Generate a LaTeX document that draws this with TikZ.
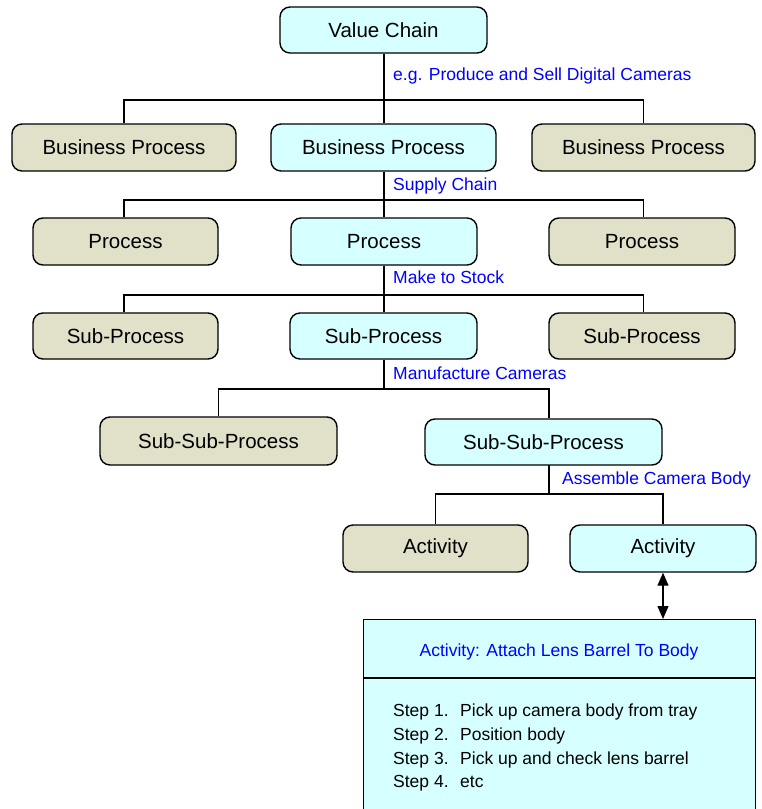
\documentclass[tikz,border=0pt]{standalone}
\usepackage{fontspec}
\setmainfont{Liberation Sans}
\usetikzlibrary{arrows.meta}
\definecolor{cyanfill}{RGB}{214,255,255}
\definecolor{beigefill}{RGB}{225,224,200}
\definecolor{labelblue}{RGB}{0,0,255}
\begin{document}
\begin{tikzpicture}[x=1pt,y=-1pt,
  box/.style={draw=black, line width=1.4pt, rounded corners=10pt, inner sep=0pt,
    font=\fontsize{20.5}{24}\selectfont},
  hi/.style={box, fill=cyanfill},
  lo/.style={box, fill=beigefill},
  conn/.style={draw=black, line width=1.2pt},
  lbl/.style={text=labelblue, font=\fontsize{17.5}{21}\selectfont, anchor=west, inner sep=0pt}
]
\useasboundingbox (0,0) rectangle (762,809);

% Level 0
\node[hi, minimum width=207pt, minimum height=46pt] (vc) at (383.5,30) {Value Chain};
% Level 1
\node[lo, minimum width=224pt, minimum height=47pt] (bp1) at (124,147.5) {Business Process};
\node[hi, minimum width=225pt, minimum height=47pt] (bp2) at (383.5,147.5) {Business Process};
\node[lo, minimum width=223pt, minimum height=47pt] (bp3) at (643.5,147.5) {Business Process};
% Level 2
\node[lo, minimum width=185pt, minimum height=47pt] (p1) at (125.5,241.5) {Process};
\node[hi, minimum width=186pt, minimum height=47pt] (p2) at (384,241.5) {Process};
\node[lo, minimum width=186pt, minimum height=47pt] (p3) at (642,241.5) {Process};
% Level 3
\node[lo, minimum width=185pt, minimum height=46pt] (sp1) at (125.5,336) {Sub-Process};
\node[hi, minimum width=187pt, minimum height=46pt] (sp2) at (383.5,336) {Sub-Process};
\node[lo, minimum width=186pt, minimum height=46pt] (sp3) at (642,336) {Sub-Process};
% Level 4
\node[lo, minimum width=237pt, minimum height=48pt] (ssp1) at (218.5,441) {Sub-Sub-Process};
\node[hi, minimum width=237pt, minimum height=46pt] (ssp2) at (543.5,442) {Sub-Sub-Process};
% Level 5
\node[lo, minimum width=185pt, minimum height=47pt] (a1) at (435.5,548.5) {Activity};
\node[hi, minimum width=186pt, minimum height=47pt] (a2) at (663,548.5) {Activity};

% Detail box
\node[draw=black, line width=1.2pt, fill=cyanfill, minimum width=392pt, minimum height=196pt,
  anchor=north west, inner sep=0pt] (det) at (363,619) {};
\coordinate (divl) at (363,678);
\coordinate (divr) at (755,678);
\draw[line width=1.2pt] (divl) -- (divr);
\node[text=labelblue, font=\fontsize{17.5}{21}\selectfont, inner sep=0pt] (dettitle) at (559,652) {Activity: Attach Lens Barrel To Body};
\node[anchor=north west, align=left, inner sep=0pt, font=\fontsize{17.5}{23.7}\selectfont] (steps) at (393,704)
 {\makebox[67pt][l]{Step 1.}Pick up camera body from tray\\
  \makebox[67pt][l]{Step 2.}Position body\\
  \makebox[67pt][l]{Step 3.}Pick up and check lens barrel\\
  \makebox[67pt][l]{Step 4.}etc};

% Connectors
\coordinate (j0) at (384,100);
\draw[conn] (vc.south -| j0) -- (j0);
\draw[conn] (bp1.north) |- (j0) -| (bp3.north);
\draw[conn] (j0) -- (j0 |- bp2.north);

\coordinate (j1) at (384,200);
\draw[conn] (bp2.south -| j1) -- (j1);
\draw[conn] (p1.north -| bp1.north) |- (j1) -| (p3.north -| bp3.north);
\draw[conn] (j1) -- (j1 |- p2.north);

\coordinate (j2) at (384,295);
\draw[conn] (p2.south -| j2) -- (j2);
\draw[conn] (sp1.north -| bp1.north) |- (j2) -| (sp3.north -| bp3.north);
\draw[conn] (j2) -- (j2 |- sp2.north);

\coordinate (j3) at (384,389);
\coordinate (k3) at (549,389);
\draw[conn] (sp2.south -| j3) -- (j3);
\draw[conn] (ssp1.north) |- (j3) -- (k3) -- (k3 |- ssp2.north);

\coordinate (s4) at (549,465);
\coordinate (j4) at (549,494);
\draw[conn] (s4) -- (j4);
\draw[conn] (a1.north) |- (j4) -| (a2.north);

\draw[line width=1.3pt, {Triangle[length=13pt,width=11pt]}-{Triangle[length=13pt,width=11pt]}] (a2.south) -- (det.north -| a2.south);

% Labels
\node[lbl] (l0) at (393,76) {e.g. Produce and Sell Digital Cameras};
\node[lbl] (l1) at (393,186) {Supply Chain};
\node[lbl] (l2) at (393,277) {Make to Stock};
\node[lbl] (l3) at (393,373) {Manufacture Cameras};
\node[lbl] (l4) at (562,480) {Assemble Camera Body};
\end{tikzpicture}
\end{document}
